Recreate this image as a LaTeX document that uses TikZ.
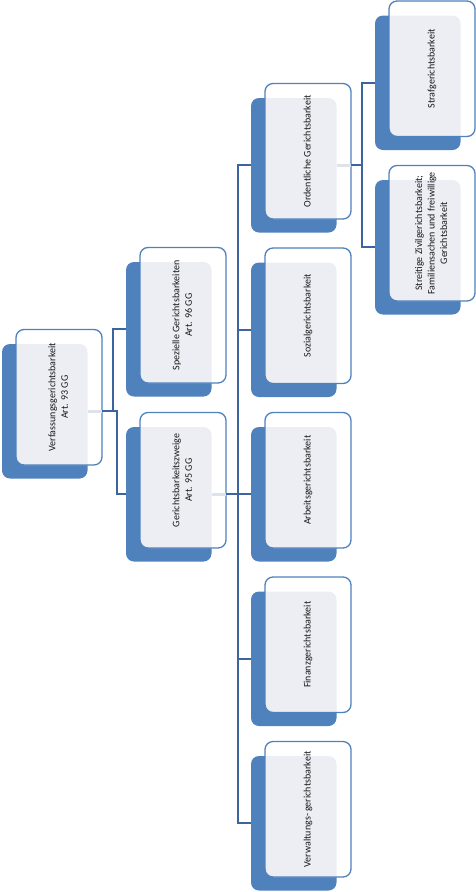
\documentclass[tikz,border=0pt]{standalone}
\usepackage{fontspec}
\setmainfont{Carlito}
\usetikzlibrary{calc}
\definecolor{accent}{RGB}{79,129,189}
\definecolor{linec}{RGB}{62,100,160}
\definecolor{overlapc}{RGB}{236,238,244}
\definecolor{stubc}{RGB}{222,226,236}
\tikzset{
  backbox/.style={fill=accent, rounded corners=8pt, minimum width=85.5pt, minimum height=134.5pt, inner sep=0pt, outer sep=0pt, anchor=north west},
  frontbox/.style={fill=white, draw=accent, line width=1.3pt, rounded corners=8pt, minimum width=86pt, minimum height=135.5pt, inner sep=0pt, outer sep=0pt, anchor=north west, font=\fontsize{10}{12.5}\selectfont, text=black!90},
  conn/.style={draw=linec, line width=1.8pt},
  stub/.style={draw=stubc, line width=3pt},
}
\newcommand\orgitem[4]{%
  \node[backbox] (#1B) at (#2,#3) {};
  \node[frontbox, path picture={\fill[overlapc, rounded corners=8pt] (#1B.south west) rectangle (#1B.north east);}] (#1W) at ($(#2,#3)+(14,-14.5)$) {\rotatebox{90}{\begin{tabular}{@{}c@{}}#4\end{tabular}}};
}
\begin{document}
\begin{tikzpicture}[x=1pt,y=-1pt]
\useasboundingbox (0,0) rectangle (475,892);
% level 1
\orgitem{root}{2}{344}{Verfassungsgerichtsbarkeit\\Art. 93 GG}
% level 2
\orgitem{spez}{126}{262}{Spezielle Gerichtsbarkeiten\\Art. 96 GG}
\orgitem{zweig}{126}{427}{Gerichtsbarkeitszweige\\Art. 95 GG}
% level 3
\orgitem{ord}{251}{98}{Ordentliche Gerichtsbarkeit}
\orgitem{soz}{251}{262.5}{Sozialgerichtsbarkeit}
\orgitem{arb}{251}{427}{Arbeitsgerichtsbarkeit}
\orgitem{fin}{251}{591.5}{Finanzgerichtsbarkeit}
\orgitem{verw}{251}{756}{Verwaltungs- gerichtsbarkeit}
% level 4
\orgitem{straf}{375}{15.5}{Strafgerichtsbarkeit}
\orgitem{zivil}{375}{180}{Streitige Zivilgerichtsbarkeit;\\Familiensachen und freiwillige\\Gerichtsbarkeit}
% connectors
\coordinate (r0) at (rootB.east -| rootW.east);
\coordinate (z0) at (zweigB.east -| zweigW.east);
\coordinate (o0) at (ordB.east -| ordW.east);
\draw[stub] (rootB.east) -- (r0);
\draw[stub] (zweigB.east) -- (z0);
\draw[stub] (ordB.east) -- (o0);
\draw[conn] (r0) -- ++(11,0) |- (spezB.west);
\draw[conn] (r0) -- ++(15,0) |- (zweigB.west);
\foreach \n in {ord,soz,arb,fin,verw}{
  \draw[conn] (z0) -- ++(12,0) |- (\n B.west);
}
\draw[conn] (o0) -- ++(11,0) |- (strafB.west);
\draw[conn] (o0) -- ++(11,0) |- (zivilB.west);
\end{tikzpicture}
\end{document}
